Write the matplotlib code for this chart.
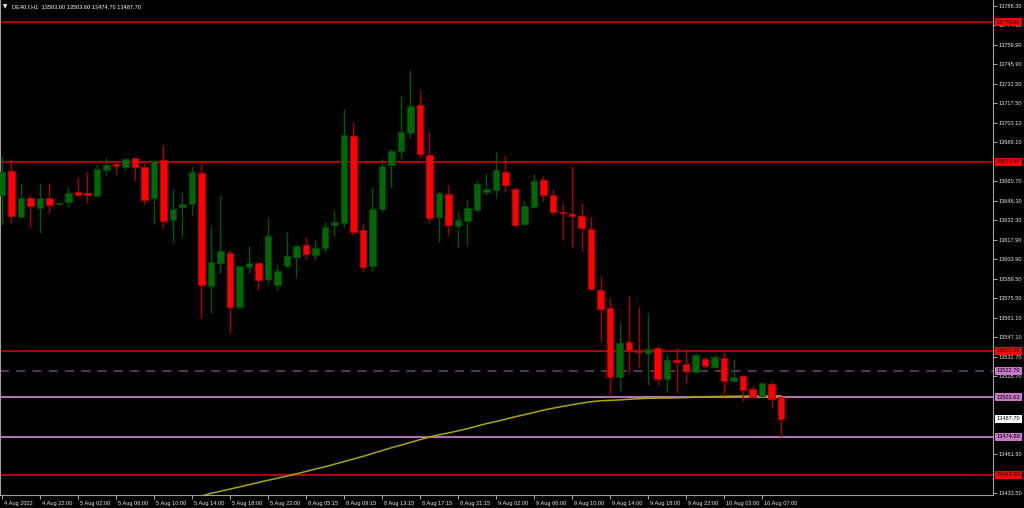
import matplotlib.pyplot as plt
import matplotlib as mpl
import numpy as np

plt.rcParams['font.family'] = ['Liberation Sans', 'DejaVu Sans']

# hourly candles, DE40.f H1 (open, high, low, close)
opens = [13650.7, 13668.4, 13634.9, 13648.3, 13641.5, 13648.8, 13643.9, 13645.6, 13652.7, 13651.2,
         13650.2, 13669.2, 13673.1, 13670.9, 13677.4, 13670.9, 13648.3, 13676.2, 13632.5, 13641.9,
         13644.4, 13666.5, 13584.7, 13601.0, 13608.5, 13569.4, 13598.5, 13601.0, 13589.3, 13585.0,
         13599.0, 13605.3, 13614.3, 13607.3, 13612.4, 13628.6, 13630.1, 13693.9, 13625.0, 13599.2,
         13640.5, 13672.6, 13683.0, 13696.1, 13716.2, 13679.8, 13634.9, 13651.2, 13628.4, 13631.8,
         13640.0, 13653.1, 13654.4, 13667.7, 13654.9, 13629.4, 13642.2, 13661.6, 13650.5, 13638.3,
         13636.7, 13635.4, 13625.7, 13581.8, 13568.4, 13518.4, 13543.7, 13537.4, 13535.9, 13539.1,
         13516.5, 13530.6, 13527.9, 13521.9, 13531.3, 13525.7, 13532.0, 13515.5, 13519.0, 13509.5,
         13504.6, 13513.1, 13503.6]
highs = [13678.6, 13676.9, 13659.2, 13650.7, 13659.2, 13659.2, 13645.2, 13656.0, 13664.0, 13667.7,
         13673.3, 13677.4, 13675.0, 13677.9, 13677.9, 13673.8, 13676.2, 13687.1, 13655.1, 13653.1,
         13671.8, 13675.0, 13628.4, 13650.7, 13610.7, 13599.5, 13613.6, 13601.5, 13633.8, 13599.8,
         13623.8, 13614.3, 13620.4, 13618.0, 13631.0, 13639.8, 13713.1, 13703.9, 13629.6, 13656.8,
         13676.9, 13684.0, 13722.8, 13741.7, 13727.2, 13697.5, 13653.6, 13658.0, 13638.6, 13647.1,
         13661.6, 13666.5, 13682.0, 13679.1, 13656.8, 13646.3, 13666.0, 13664.5, 13654.9, 13644.7,
         13671.8, 13644.7, 13634.5, 13591.7, 13575.9, 13558.5, 13577.2, 13570.1, 13565.0, 13541.3,
         13534.2, 13539.8, 13539.3, 13535.5, 13533.0, 13534.2, 13536.4, 13531.3, 13519.5, 13512.4,
         13514.4, 13515.5, 13503.6]
lows = [13628.9, 13630.1, 13634.5, 13627.6, 13622.8, 13637.4, 13643.6, 13641.8, 13650.2, 13644.7,
        13650.0, 13664.8, 13665.8, 13669.0, 13661.1, 13643.4, 13629.4, 13626.5, 13615.5, 13620.4,
        13636.1, 13561.4, 13564.8, 13593.7, 13550.5, 13568.2, 13593.7, 13581.6, 13586.4, 13581.6,
        13598.5, 13590.1, 13604.1, 13603.4, 13609.4, 13621.1, 13627.6, 13621.6, 13595.4, 13595.4,
        13638.6, 13656.0, 13677.9, 13692.0, 13677.9, 13630.1, 13616.7, 13621.6, 13613.1, 13614.3,
        13638.6, 13650.7, 13648.8, 13653.1, 13627.6, 13628.9, 13642.0, 13646.3, 13636.1, 13618.0,
        13612.6, 13610.2, 13581.6, 13544.7, 13504.4, 13508.2, 13521.4, 13525.7, 13512.4, 13512.4,
        13507.5, 13506.3, 13513.6, 13520.9, 13524.6, 13524.6, 13504.4, 13514.8, 13500.7, 13503.6,
        13504.0, 13496.6, 13474.7]
closes = [13667.7, 13635.4, 13648.8, 13642.4, 13648.3, 13643.7, 13644.9, 13652.2, 13650.7, 13650.9,
          13669.6, 13672.6, 13671.8, 13676.9, 13670.9, 13647.1, 13675.5, 13632.0, 13640.5, 13643.9,
          13667.2, 13585.2, 13601.7, 13610.0, 13569.4, 13599.0, 13601.2, 13588.8, 13621.1, 13595.4,
          13606.1, 13613.4, 13607.5, 13612.1, 13627.6, 13631.3, 13694.4, 13624.0, 13598.5, 13640.5,
          13671.8, 13682.7, 13696.6, 13715.5, 13680.3, 13634.2, 13651.9, 13628.9, 13632.3, 13641.0,
          13658.9, 13655.1, 13668.7, 13658.0, 13628.9, 13642.9, 13661.1, 13650.7, 13638.1, 13637.4,
          13635.7, 13626.5, 13582.1, 13567.5, 13518.4, 13542.7, 13537.9, 13536.4, 13538.6, 13517.0,
          13530.4, 13529.1, 13522.6, 13534.2, 13526.2, 13532.6, 13515.5, 13518.4, 13508.8, 13503.9,
          13514.1, 13502.4, 13487.7]

# moving average, bars 21..82
ma_start = 21
ma_values = [13431.6, 13433.5, 13435.0, 13436.6, 13438.2, 13439.8, 13441.4, 13443.0, 13444.5, 13446.1,
             13447.7, 13449.4, 13451.2, 13452.8, 13454.7, 13456.6, 13458.5, 13460.4, 13462.5, 13464.6,
             13466.7, 13468.6, 13470.6, 13472.6, 13474.5, 13476.1, 13477.5, 13479.0, 13480.6, 13482.5,
             13484.3, 13485.8, 13487.5, 13489.2, 13490.8, 13492.4, 13494.1, 13495.5, 13496.8, 13498.0,
             13499.2, 13500.2, 13500.9, 13501.2, 13501.5, 13502.0, 13502.4, 13502.7, 13502.8, 13502.9,
             13503.0, 13503.2, 13503.5, 13503.8, 13504.0, 13504.1, 13504.2, 13504.3, 13504.3, 13504.3,
             13504.4, 13504.4]

time_labels = ['4 Aug 2022', '4 Aug 22:00', '5 Aug 02:00', '5 Aug 06:00', '5 Aug 10:00',
               '5 Aug 14:00', '5 Aug 18:00', '5 Aug 22:00', '8 Aug 05:15', '8 Aug 09:15',
               '8 Aug 13:15', '8 Aug 17:15', '8 Aug 21:15', '9 Aug 02:00', '9 Aug 06:00',
               '9 Aug 10:00', '9 Aug 14:00', '9 Aug 18:00', '9 Aug 22:00', '10 Aug 03:00',
               '10 Aug 07:00']
price_ticks = [13788.30, 13774.30, 13759.90, 13745.90, 13731.50, 13717.50, 13703.10, 13689.10,
               13660.70, 13646.30, 13632.30, 13617.90, 13603.90, 13589.50, 13575.50, 13561.10,
               13547.10, 13532.70, 13518.70, 13461.90, 13433.50]

red_levels = [13776.60, 13674.86, 13537.18, 13447.00]
violet_levels = [13503.63, 13474.69]
dashed_level = 13522.70
last_price = 13487.70
title = 'DE40.f,H1  13503.60 13503.60 13474.70 13487.70'

FS = 4.1
W, H = 1024, 508
fig = plt.figure(figsize=(W / 100, H / 100), dpi=100, facecolor='black')
ax = fig.add_axes([0.0, 13 / H, 993 / W, 495 / H], facecolor='black')

o = np.array(opens)
h = np.array(highs)
l = np.array(lows)
c = np.array(closes)
x = np.arange(len(o))
up = c >= o

# levels
for lv in red_levels:
    ax.axhline(lv, color='#e00000', lw=1.1, zorder=1)
ax.axhline(dashed_level, color='#5e3a60', lw=1.3, dashes=(5, 4), zorder=1)
for lv in violet_levels:
    ax.axhline(lv, color='#b070b0', lw=1.5, zorder=1)

# moving average
ax.plot(np.arange(ma_start, ma_start + len(ma_values)), ma_values, color='#aca600', lw=1.1, zorder=2)

# candles
ax.vlines(x[up], l[up], h[up], color='#005a00', lw=1, zorder=3)
ax.vlines(x[~up], l[~up], h[~up], color='#b00000', lw=1, zorder=3)
body = np.maximum(np.abs(c - o), 0.9)
ax.bar(x[up], body[up], bottom=np.minimum(o, c)[up], width=0.68,
       color='#006800', edgecolor='#004a00', lw=0.6, zorder=4)
ax.bar(x[~up], body[~up], bottom=np.minimum(o, c)[~up], width=0.68,
       color='#ff0000', edgecolor='#c00000', lw=0.6, zorder=4)

ax.set_xlim(-0.19, 104.3)
ax.set_ylim(13432.3, 13792.67)

ax.spines['top'].set_visible(False)
ax.spines['left'].set_color('#a0a0a0')
ax.spines['right'].set_color('#a0a0a0')
ax.spines['bottom'].set_color('#a0a0a0')

ax.yaxis.tick_right()
ax.set_yticks(price_ticks)
ax.set_yticklabels(['%.2f' % p for p in price_ticks])
ax.tick_params(axis='y', which='major', length=3, width=0.8, color='#a0a0a0',
               labelcolor='#e8e8e8', labelsize=FS, pad=1)

ax.set_xticks(np.arange(0, 4 * len(time_labels), 4))
ax.set_xticklabels(time_labels, ha='left')
ax.tick_params(axis='x', which='major', length=3, width=0.8, color='#a0a0a0',
               labelcolor='#e8e8e8', labelsize=FS, pad=1)
for lab in ax.get_xticklabels():
    lab.set_transform(lab.get_transform() + mpl.transforms.ScaledTranslation(2 / 100, 0, fig.dpi_scale_trans))

# price boxes on the scale
boxes = [(lv, '#ff0000', 'black') for lv in red_levels]
boxes += [(dashed_level, '#c878c8', 'black')]
boxes += [(lv, '#c878c8', 'black') for lv in violet_levels]
boxes += [(last_price, 'white', 'black')]
for lv, fc, tc in boxes:
    ax.text(1.004, lv, '%.2f' % lv, transform=ax.get_yaxis_transform(), ha='left', va='center',
            fontsize=FS, color=tc, clip_on=False, zorder=10,
            bbox=dict(boxstyle='square,pad=0.3', fc=fc, ec='none'))

fig.text(3 / W, 1 - 7 / H, '▼', color='white', fontsize=4, family='DejaVu Sans', va='center')
fig.text(12 / W, 1 - 7 / H, title, color='white', fontsize=FS, va='center')

fig.savefig('out.png', dpi=100, facecolor='black')
